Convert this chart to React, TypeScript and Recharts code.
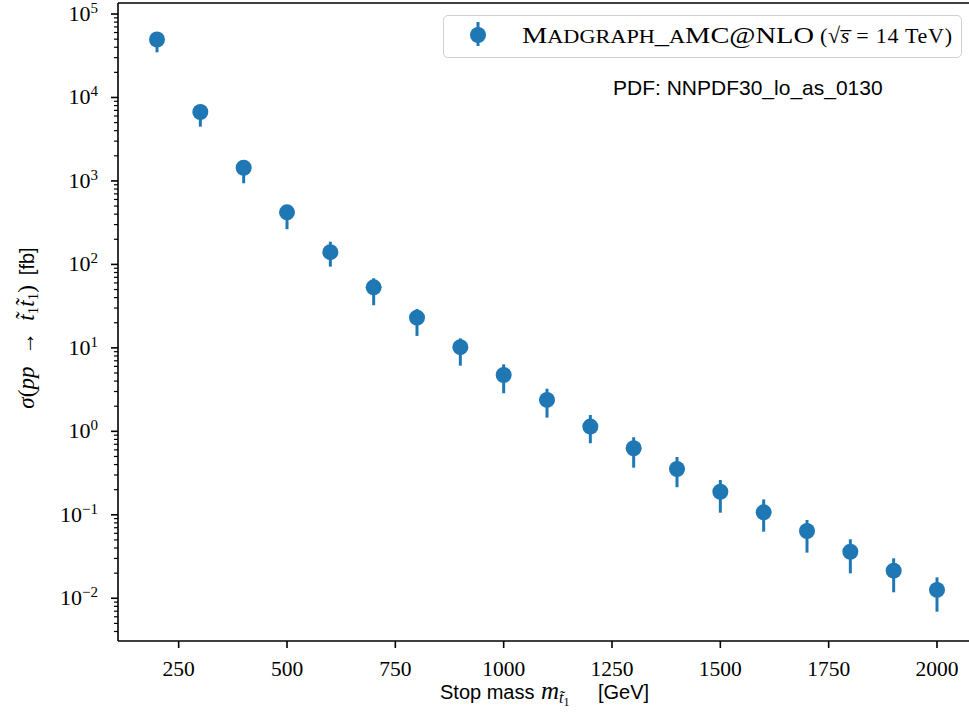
import React from 'react';
import { ScatterChart, Scatter, XAxis, YAxis, ErrorBar, Legend, Customized } from 'recharts';

const masses = [200, 300, 400, 500, 600, 700, 800, 900, 1000, 1100, 1200, 1300, 1400, 1500, 1600, 1700, 1800, 1900, 2000];
const xsec = [49500, 6700, 1440, 421, 140, 53.2, 23.0, 10.2, 4.73, 2.38, 1.14, 0.627, 0.354, 0.189, 0.107, 0.064, 0.0361, 0.0214, 0.0126];
const xsecLow = [34750, 4470, 938, 264, 94, 32.4, 13.9, 6.12, 2.86, 1.46, 0.72, 0.367, 0.214, 0.106, 0.0628, 0.0352, 0.0199, 0.0118, 0.0069];
const xsecHigh = [59000, 8000, 1720, 505, 187, 68.2, 29.2, 13.0, 6.35, 3.24, 1.57, 0.849, 0.493, 0.261, 0.153, 0.0867, 0.0509, 0.0301, 0.0178];
const xTicks = [250, 500, 750, 1000, 1250, 1500, 1750, 2000];
const yDecades = [-3, -2, -1, 0, 1, 2, 3, 4, 5];

const X_DOMAIN: [number, number] = [110, 2090];
const Y_DOMAIN: [number, number] = [0.003076, 135500];
const BLUE = '#1f77b4';
const SERIF = '"Liberation Serif", "DejaVu Serif", serif';
const SANS = '"Liberation Sans", Arial, sans-serif';

const data = masses.map((m, i) => ({
  mass: m,
  xsec: xsec[i],
  err: [xsec[i] - xsecLow[i], xsecHigh[i] - xsec[i]],
}));

const yTicks: number[] = [];
yDecades.forEach((e) => {
  for (let k = 1; k <= 9; k++) {
    const v = k * Math.pow(10, e);
    if (v >= Y_DOMAIN[0] && v <= Y_DOMAIN[1]) yTicks.push(v);
  }
});

const isMajor = (v: number) => {
  const l = Math.log10(v);
  return Math.abs(l - Math.round(l)) < 1e-9;
};

const XTick = (props: any) => {
  const { x, y, payload } = props;
  return (
    <g>
      <line x1={x} x2={x} y1={y} y2={y + 7} stroke="#000" strokeWidth={1.6} />
      <text x={x} y={y + 35} textAnchor="middle" fontFamily={SERIF} fontSize={21.5} fill="#000">
        {payload.value}
      </text>
    </g>
  );
};

const YTick = (props: any) => {
  const { x, y, payload } = props;
  const v = payload.value;
  if (!isMajor(v)) {
    return <line x1={x - 4} x2={x} y1={y} y2={y} stroke="#000" strokeWidth={1.2} />;
  }
  const e = Math.round(Math.log10(v));
  const expStr = e < 0 ? '\u2212' + Math.abs(e) : String(e);
  return (
    <g>
      <line x1={x - 7} x2={x} y1={y} y2={y} stroke="#000" strokeWidth={1.6} />
      <text x={x - 20} y={y + 7} textAnchor="end" fontFamily={SERIF} fontSize={22} fill="#000">
        <tspan>10</tspan>
        <tspan dy={-8} fontSize={15}>{expStr}</tspan>
      </text>
    </g>
  );
};

const Dot = (props: any) => {
  const { cx, cy } = props;
  return <circle cx={cx} cy={cy} r={8} fill={BLUE} />;
};

const LegendBox = () => (
  <div
    style={{
      width: 519,
      height: 43,
      boxSizing: 'border-box',
      border: '1.3px solid #d0d0d0',
      borderRadius: 5,
      background: 'rgba(255,255,255,0.8)',
      position: 'relative',
    }}
  >
    <svg width={519} height={43} style={{ position: 'absolute', left: 0, top: 0, overflow: 'visible' }}>
      <line x1={34} x2={34} y1={6} y2={30} stroke={BLUE} strokeWidth={3} />
      <circle cx={34} cy={19} r={8} fill={BLUE} />
      <text x={78} y={26.5} fontFamily={SERIF} fontSize={23} fill="#000" textLength={292} lengthAdjust="spacingAndGlyphs">
        <tspan>M</tspan>
        <tspan fontSize={18}>ADGRAPH</tspan>
        <tspan>_</tspan>
        <tspan fontSize={18}>A</tspan>
        <tspan>MC@NLO</tspan>
      </text>
      <text x={376} y={26.5} fontFamily={SERIF} fontSize={22} fill="#000" textLength={132} lengthAdjust="spacing">
        <tspan>(</tspan>
        <tspan>{'\u221A'}</tspan>
        <tspan fontStyle="italic">{'s\u0305'}</tspan>
        <tspan>{' = 14 TeV)'}</tspan>
      </text>
    </svg>
  </div>
);

const Annotations = () => (
  <g>
    <text x={613} y={95} fontFamily={SANS} fontSize={21} fill="#000">
      PDF: NNPDF30_lo_as_0130
    </text>
    <text x={440} y={699} fill="#000" fontFamily={SANS} fontSize={20}>Stop mass</text>
    <text x={541} y={699} fill="#000">
      <tspan fontFamily={SERIF} fontSize={25} fontStyle="italic">m</tspan>
      <tspan fontFamily={SERIF} fontSize={16} fontStyle="italic" dy={4}>t̃</tspan>
      <tspan fontFamily={SERIF} fontSize={12} dy={3}>1</tspan>
    </text>
    <text x={598} y={699} fill="#000" fontFamily={SANS} fontSize={20}>[GeV]</text>
    <text x={34} y={328} textAnchor="middle" fill="#000" transform="rotate(-90 34 328)">
      <tspan fontFamily={SERIF} fontSize={23} fontStyle="italic">σ</tspan>
      <tspan fontFamily={SERIF} fontSize={23}>(</tspan>
      <tspan fontFamily={SERIF} fontSize={23} fontStyle="italic">pp</tspan>
      <tspan fontFamily={SERIF} fontSize={23}>{'\u2002\u2192\u2002'}</tspan>
      <tspan fontFamily={SERIF} fontSize={23} fontStyle="italic">t̃</tspan>
      <tspan fontFamily={SERIF} fontSize={15} dy={4}>1</tspan>
      <tspan fontFamily={SERIF} fontSize={23} fontStyle="italic" dy={-4}>t̃</tspan>
      <tspan fontFamily={SERIF} fontSize={15} dy={4}>1</tspan>
      <tspan fontFamily={SERIF} fontSize={23} dy={-4}>)</tspan>
      <tspan fontFamily={SANS} fontSize={20}>{'\u2002[fb]'}</tspan>
    </text>
  </g>
);

export default function App() {
  return (
    <div style={{ position: 'absolute', left: 0, top: 0, width: 969, height: 715, overflow: 'hidden', background: '#fff' }}>
      <ScatterChart width={985} height={715} margin={{ top: 2, right: 9, bottom: 0, left: 0 }}>
        <XAxis
          dataKey="mass"
          type="number"
          domain={X_DOMAIN}
          allowDataOverflow
          ticks={xTicks}
          interval={0}
          height={74}
          tickSize={0}
          tickMargin={0}
          tick={<XTick />}
          axisLine={{ stroke: '#000', strokeWidth: 1.6 }}
        />
        <XAxis
          xAxisId="top"
          orientation="top"
          type="number"
          domain={X_DOMAIN}
          allowDataOverflow
          height={1}
          tick={false}
          tickLine={false}
          axisLine={{ stroke: '#000', strokeWidth: 1.6 }}
        />
        <YAxis
          dataKey="xsec"
          type="number"
          scale="log"
          domain={Y_DOMAIN}
          allowDataOverflow
          ticks={yTicks}
          interval={0}
          width={118}
          tickSize={0}
          tickMargin={0}
          tick={<YTick />}
          axisLine={{ stroke: '#000', strokeWidth: 1.6 }}
        />
        <Legend
          layout="horizontal"
          verticalAlign="middle"
          align="center"
          content={() => <LegendBox />}
          wrapperStyle={{ position: 'absolute', left: 443, top: 15, width: 519, height: 43 }}
        />
        <Scatter data={data} fill={BLUE} shape={<Dot />} isAnimationActive={false}>
          <ErrorBar dataKey="err" direction="y" width={0} stroke={BLUE} strokeWidth={3} />
        </Scatter>
        <Customized component={<Annotations />} />
      </ScatterChart>
    </div>
  );
}
